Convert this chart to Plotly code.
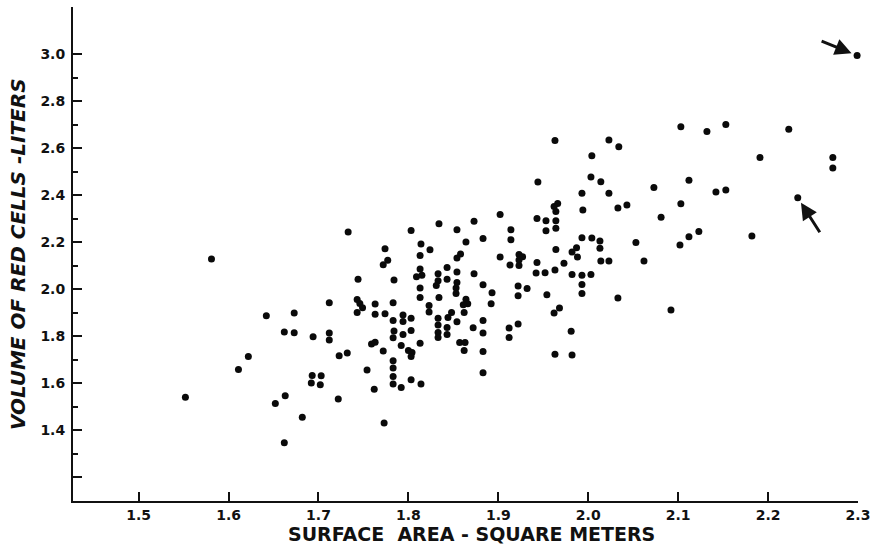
import plotly.graph_objects as go

# Surface area (m^2) and red-cell volume (L)
surface_area = [
    1.552, 1.581, 1.611, 1.622, 1.642, 1.652, 1.662, 1.663, 1.662, 1.673,
    1.673, 1.682, 1.692, 1.693, 1.694, 1.702, 1.703, 1.712, 1.712, 1.712,
    1.733, 1.803, 1.834, 1.873, 1.902, 1.854, 1.883, 1.864, 1.814, 1.824,
    1.774, 1.813, 1.777, 1.772, 1.858, 1.854, 1.902, 1.843, 1.813, 1.809,
    1.815, 1.833, 1.854, 1.873, 1.843, 1.833, 1.831, 1.854, 1.853, 1.853,
    1.883, 1.893, 1.892, 1.744, 1.784, 1.813, 1.813, 1.834, 1.864, 1.866,
    1.861, 1.862, 1.743, 1.746, 1.749, 1.743, 1.763, 1.763, 1.774, 1.783,
    1.823, 1.823, 1.848, 1.844, 1.833, 1.854, 1.833, 1.843, 1.843, 1.833,
    1.833, 1.872, 1.883, 1.883, 1.857, 1.863, 1.862, 1.883, 1.883, 1.794,
    1.794, 1.803, 1.783, 1.784, 1.783, 1.794, 1.803, 1.792, 1.813, 1.800,
    1.804, 1.803, 1.772, 1.759, 1.763, 1.732, 1.723, 1.783, 1.783, 1.754,
    1.783, 1.783, 1.803, 1.814, 1.792, 1.762, 1.722, 1.773,
    1.963, 2.023, 2.034, 2.004, 1.944, 2.003, 2.014, 1.993, 2.023, 2.073,
    2.033, 2.043, 2.081, 1.966, 1.962, 1.964, 1.994, 1.943, 1.953, 1.964,
    1.964, 1.953, 1.914, 1.914, 1.993, 2.004, 2.013, 2.013, 2.053, 1.964,
    1.987, 1.982, 1.988, 1.923, 1.927, 1.923, 1.923, 1.913, 1.943, 1.973,
    1.963, 1.942, 1.952, 2.014, 2.023, 2.062, 1.982, 1.993, 2.003, 1.993,
    1.993, 2.033, 1.922, 1.932, 1.922, 1.954, 1.968, 1.962, 1.912, 1.912,
    1.922, 1.981, 1.963, 1.982,
    2.299, 2.103, 2.132, 2.153, 2.223, 2.191, 2.272, 2.272, 2.112, 2.142,
    2.153, 2.103, 2.233, 2.123, 2.112, 2.102, 2.182, 2.092,
]
red_cell_volume = [
    1.541, 2.129, 1.659, 1.714, 1.887, 1.514, 1.818, 1.547, 1.348, 1.899,
    1.815, 1.456, 1.602, 1.633, 1.798, 1.594, 1.632, 1.943, 1.814, 1.784,
    2.243, 2.250, 2.279, 2.289, 2.318, 2.253, 2.216, 2.201, 2.192, 2.168,
    2.172, 2.144, 2.123, 2.104, 2.150, 2.133, 2.137, 2.093, 2.086, 2.053,
    2.060, 2.066, 2.074, 2.066, 2.043, 2.036, 2.016, 2.029, 2.005, 1.982,
    2.019, 1.985, 1.938, 2.043, 2.040, 2.005, 1.965, 1.965, 1.958, 1.938,
    1.934, 1.901, 1.957, 1.940, 1.922, 1.901, 1.937, 1.894, 1.896, 1.943,
    1.931, 1.903, 1.901, 1.880, 1.877, 1.862, 1.848, 1.838, 1.808, 1.816,
    1.795, 1.836, 1.867, 1.814, 1.774, 1.774, 1.740, 1.735, 1.645, 1.891,
    1.863, 1.877, 1.867, 1.823, 1.794, 1.808, 1.825, 1.761, 1.771, 1.740,
    1.731, 1.714, 1.738, 1.767, 1.775, 1.729, 1.717, 1.696, 1.665, 1.657,
    1.629, 1.597, 1.615, 1.597, 1.582, 1.575, 1.534, 1.432,
    2.632, 2.635, 2.606, 2.568, 2.456, 2.477, 2.457, 2.408, 2.408, 2.433,
    2.346, 2.358, 2.306, 2.365, 2.352, 2.331, 2.337, 2.301, 2.291, 2.291,
    2.259, 2.249, 2.253, 2.211, 2.219, 2.218, 2.205, 2.174, 2.199, 2.169,
    2.177, 2.158, 2.137, 2.148, 2.138, 2.124, 2.101, 2.103, 2.114, 2.111,
    2.082, 2.069, 2.070, 2.120, 2.120, 2.120, 2.063, 2.060, 2.063, 2.020,
    1.982, 1.963, 2.014, 2.003, 1.972, 1.977, 1.920, 1.899, 1.835, 1.795,
    1.852, 1.822, 1.724, 1.721,
    2.994, 2.691, 2.671, 2.700, 2.680, 2.560, 2.560, 2.516, 2.463, 2.414,
    2.422, 2.364, 2.389, 2.246, 2.223, 2.188, 2.226, 1.912,
]

# Points singled out by arrows in the reference
arrow_points_x = [2.299, 2.233]
arrow_points_y = [2.994, 2.389]

x_tick_vals = [1.5, 1.6, 1.7, 1.8, 1.9, 2.0, 2.1, 2.2, 2.3]
x_tick_text = ["1.5", "1.6", "1.7", "1.8", "1.9", "2.0", "2.1", "2.2", "2.3"]
y_tick_vals = [1.2, 1.4, 1.6, 1.8, 2.0, 2.2, 2.4, 2.6, 2.8, 3.0]
y_tick_text = ["", "1.4", "1.6", "1.8", "2.0", "2.2", "2.4", "2.6", "2.8", "3.0"]
y_minor_vals = [1.3, 1.5, 1.7, 1.9, 2.1, 2.3, 2.5, 2.7, 2.9]

fig = go.Figure()
fig.add_trace(go.Scatter(
    x=surface_area, y=red_cell_volume, mode="markers",
    marker=dict(size=7, color="#0a0a0a", line=dict(width=0)),
    hoverinfo="x+y", showlegend=False, cliponaxis=False,
))

tick_font = dict(family="DejaVu Sans, sans-serif", size=14,
                 color="#111", weight="bold")

fig.update_xaxes(
    range=[1.427, 2.3], showline=True, linecolor="#111", linewidth=2,
    showgrid=False, zeroline=False, ticks="inside", ticklen=9, tickwidth=2,
    tickcolor="#111", tickmode="array", tickvals=x_tick_vals,
    ticktext=x_tick_text, tickfont=tick_font, ticklabelstandoff=0,
)
fig.update_yaxes(
    range=[1.1, 3.2], showline=True, linecolor="#111", linewidth=2,
    showgrid=False, zeroline=False, ticks="inside", ticklen=9, tickwidth=2,
    tickcolor="#111", tickmode="array", tickvals=y_tick_vals,
    ticktext=y_tick_text, tickfont=tick_font, ticklabelstandoff=3,
    minor=dict(tickmode="array", tickvals=y_minor_vals, ticks="inside",
               ticklen=5, tickwidth=2, tickcolor="#111", showgrid=False),
)

annotations = [
    dict(text="<b><i>VOLUME OF RED CELLS -LITERS</i></b>", xref="paper",
         yref="paper", x=-0.070, y=0.5, xanchor="center", yanchor="middle",
         textangle=-90, showarrow=False,
         font=dict(family="DejaVu Sans, sans-serif", size=20, color="#111")),
    dict(text="<b>SURFACE&nbsp; AREA - SQUARE METERS</b>", xref="paper",
         yref="paper", x=0.508, y=-0.092, xanchor="center", yanchor="bottom",
         showarrow=False, borderpad=0,
         font=dict(family="DejaVu Sans, sans-serif", size=19, color="#111")),
]
arrow_offsets = [(-37, -15), (23, 36)]
for px, py, (ax, ay) in zip(arrow_points_x, arrow_points_y, arrow_offsets):
    annotations.append(dict(
        x=px, y=py, xref="x", yref="y", ax=ax, ay=ay, text="",
        showarrow=True, arrowhead=2, arrowsize=1.1, arrowwidth=3,
        arrowcolor="#111", standoff=6,
    ))

fig.update_layout(
    width=872, height=546, paper_bgcolor="white", plot_bgcolor="white",
    margin=dict(l=73, r=14, t=7, b=45, autoexpand=False),
    annotations=annotations, showlegend=False,
)

fig.write_html(
    "out.html",
    config={"displayModeBar": False},
    post_script="document.body.style.margin='0';document.body.style.padding='0';",
)
